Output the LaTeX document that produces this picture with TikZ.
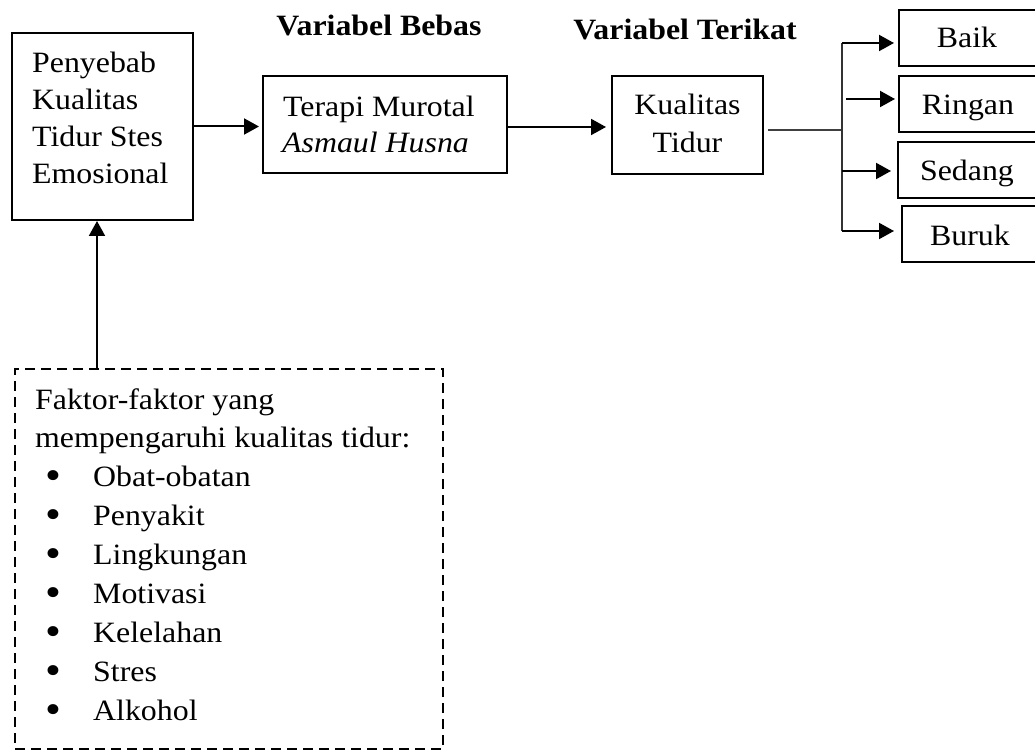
\documentclass[tikz,border=0pt]{standalone}
\usepackage{fontspec}
\setmainfont{Liberation Serif}[FakeStretch=1.08]
\usetikzlibrary{arrows.meta}
\begin{document}
\begin{tikzpicture}[x=1pt,y=-1pt,
  box/.style={draw, line width=2pt, inner sep=0pt},
  dbox/.style={draw, line width=2pt, inner sep=0pt, dash pattern=on 10pt off 6pt},
  txt/.style={inner sep=0pt, anchor=base west, font=\fontsize{29.5}{34}\selectfont},
  ctxt/.style={inner sep=0pt, anchor=base, font=\fontsize{29.5}{34}\selectfont},
  head/.style={inner sep=0pt, anchor=base, font=\bfseries\fontsize{29.5}{34}\selectfont},
  bul/.style={inner sep=0pt, anchor=base west, font=\fontsize{42}{42}\selectfont},
  arr/.style={line width=2pt, -{Triangle[length=15pt,width=16pt]}},
  thinln/.style={line width=1.2pt, draw=black!75},
  vline/.style={line width=1.5pt, draw=black!80}]
\useasboundingbox (0,0) rectangle (1035,751);
\clip (0,0) rectangle (1035,751);

% boxes
\node[box, minimum width=181pt, minimum height=187pt] (b1) at (102.5,126.5) {};
\node[box, minimum width=244pt, minimum height=97pt] (b2) at (385,124.5) {};
\node[box, minimum width=151pt, minimum height=98pt] (b3) at (687.5,125) {};
\node[box, minimum width=138pt, minimum height=56pt] (bk) at (968,38) {};
\node[box, minimum width=138pt, minimum height=56pt] (rg) at (968,104) {};
\node[box, minimum width=139pt, minimum height=56pt] (sd) at (967.5,170) {};
\node[box, minimum width=135pt, minimum height=56pt] (br) at (969.5,234) {};
\node[dbox, minimum width=428pt, minimum height=380pt] (fk) at (229,559) {};

% headings
\node[head] (h1) at (379,36) {Variabel Bebas};
\node[head] (h2) at (685,40) {Variabel Terikat};

% box texts
\node[txt] (t1a) at (32,73) {Penyebab};
\node[txt] (t1b) at (32,110) {Kualitas};
\node[txt] (t1c) at (32,147) {Tidur Stes};
\node[txt] (t1d) at (32,184) {Emosional};
\node[txt] (t2a) at (283,117) {Terapi Murotal};
\node[txt] (t2b) at (282,153) {\itshape Asmaul Husna};
\node[ctxt] (t3a) at (687.5,115) {Kualitas};
\node[ctxt] (t3b) at (687.5,153) {Tidur};
\node[ctxt] (tbk) at (967,48) {Baik};
\node[ctxt] (trg) at (968,115) {Ringan};
\node[ctxt] (tsd) at (967,181) {Sedang};
\node[ctxt] (tbr) at (970,245) {Buruk};

% factor list
\node[txt] (f0) at (35,409) {Faktor-faktor yang};
\node[txt] (f1) at (35,447) {mempengaruhi kualitas tidur:};
\foreach \t [count=\i from 0] in {Obat-obatan,Penyakit,Lingkungan,Motivasi,Kelelahan,Stres,Alkohol}{
  \node[bul] (fb\i) at (45,489+39*\i) {\textbullet};
  \node[txt] (fi\i) at (93,486+39*\i) {\t};
}

% connectors
\draw[arr, shorten >=3pt] (b1.east) -- (b1.east -| b2.west);
\draw[arr, shorten >=5pt] ([yshift=-2.5pt]b2.east) -- ([yshift=-2.5pt]b2.east -| b3.west);
\coordinate (jn) at (842,130);
\draw[thinln] (b3.east |- jn) ++(4,0) -- (jn);
\coordinate (ja) at (842,43);
\coordinate (jb) at (846,99);
\coordinate (jc) at (842,171);
\coordinate (jd) at (842,231);
\draw[vline] (ja) -- (jd);
\draw[arr, shorten >=4pt] (ja) -- (ja -| bk.west);
\draw[arr, shorten >=3pt] (jb) -- (jb -| rg.west);
\draw[arr, shorten >=6pt] (jc) -- (jc -| sd.west);
\draw[arr, shorten >=7pt] (jd) -- (jd -| br.west);
\coordinate (fu) at (97,369);
\draw[arr] (fu) -- (fu |- b1.south);
\end{tikzpicture}
\end{document}
